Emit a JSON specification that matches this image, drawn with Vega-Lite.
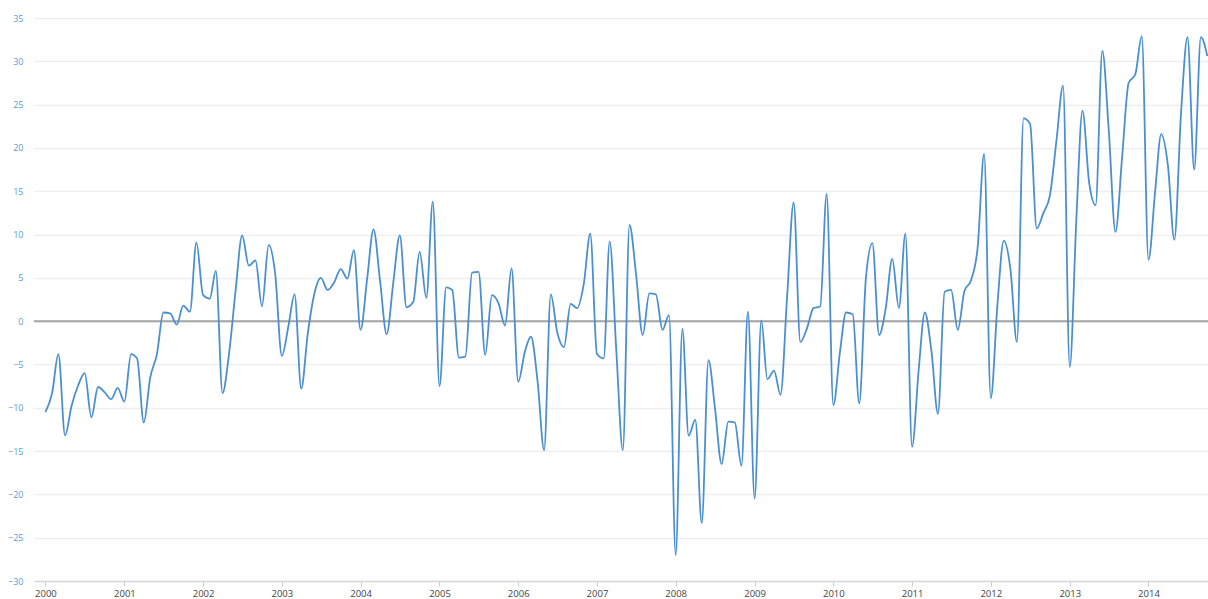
{
  "$schema": "https://vega.github.io/schema/vega-lite/v6.json",
  "autosize": {"type": "none"},
  "width": 1174,
  "height": 563,
  "padding": {"left": 34, "top": 18, "right": 0, "bottom": 18},
  "background": "white",
  "config": {"view": {"stroke": null}, "font": "Open Sans"},
  "layer": [
    {
      "data": {"values": [{"base": 0}]},
      "mark": {"type": "rule", "color": "#a3a3a3", "strokeWidth": 2},
      "encoding": {"y": {"field": "base", "type": "quantitative", "scale": {"domain": [-30, 35], "nice": false}}}
    },
    {
      "data": {"values": [
        {"date": "2000-01-01", "value": -10.5}, {"date": "2000-02-01", "value": -8.3}, {"date": "2000-03-01", "value": -3.8}, {"date": "2000-04-01", "value": -13.2},
        {"date": "2000-05-01", "value": -9.8}, {"date": "2000-06-01", "value": -7.4}, {"date": "2000-07-01", "value": -6.0}, {"date": "2000-08-01", "value": -11.1},
        {"date": "2000-09-01", "value": -7.6}, {"date": "2000-10-01", "value": -8.2}, {"date": "2000-11-01", "value": -9.0}, {"date": "2000-12-01", "value": -7.7},
        {"date": "2001-01-01", "value": -9.3}, {"date": "2001-02-01", "value": -3.8}, {"date": "2001-03-01", "value": -4.3}, {"date": "2001-04-01", "value": -11.7},
        {"date": "2001-05-01", "value": -6.5}, {"date": "2001-06-01", "value": -3.8}, {"date": "2001-07-01", "value": 1.0}, {"date": "2001-08-01", "value": 0.9},
        {"date": "2001-09-01", "value": -0.4}, {"date": "2001-10-01", "value": 1.8}, {"date": "2001-11-01", "value": 1.1}, {"date": "2001-12-01", "value": 9.1},
        {"date": "2002-01-01", "value": 3.0}, {"date": "2002-02-01", "value": 2.6}, {"date": "2002-03-01", "value": 5.8}, {"date": "2002-04-01", "value": -8.3},
        {"date": "2002-05-01", "value": -3.8}, {"date": "2002-06-01", "value": 3.6}, {"date": "2002-07-01", "value": 9.9}, {"date": "2002-08-01", "value": 6.4},
        {"date": "2002-09-01", "value": 7.0}, {"date": "2002-10-01", "value": 1.7}, {"date": "2002-11-01", "value": 8.8}, {"date": "2002-12-01", "value": 5.5},
        {"date": "2003-01-01", "value": -4.0}, {"date": "2003-02-01", "value": -0.5}, {"date": "2003-03-01", "value": 3.1}, {"date": "2003-04-01", "value": -7.8},
        {"date": "2003-05-01", "value": -1.5}, {"date": "2003-06-01", "value": 3.2}, {"date": "2003-07-01", "value": 5.0}, {"date": "2003-08-01", "value": 3.6},
        {"date": "2003-09-01", "value": 4.5}, {"date": "2003-10-01", "value": 6.0}, {"date": "2003-11-01", "value": 4.9}, {"date": "2003-12-01", "value": 8.2},
        {"date": "2004-01-01", "value": -1.0}, {"date": "2004-02-01", "value": 5.0}, {"date": "2004-03-01", "value": 10.6}, {"date": "2004-04-01", "value": 4.5},
        {"date": "2004-05-01", "value": -1.5}, {"date": "2004-06-01", "value": 4.5}, {"date": "2004-07-01", "value": 9.9}, {"date": "2004-08-01", "value": 1.6},
        {"date": "2004-09-01", "value": 2.2}, {"date": "2004-10-01", "value": 8.0}, {"date": "2004-11-01", "value": 2.7}, {"date": "2004-12-01", "value": 13.8},
        {"date": "2005-01-01", "value": -7.5}, {"date": "2005-02-01", "value": 3.9}, {"date": "2005-03-01", "value": 3.6}, {"date": "2005-04-01", "value": -4.2},
        {"date": "2005-05-01", "value": -4.1}, {"date": "2005-06-01", "value": 5.6}, {"date": "2005-07-01", "value": 5.7}, {"date": "2005-08-01", "value": -3.9},
        {"date": "2005-09-01", "value": 3.0}, {"date": "2005-10-01", "value": 2.1}, {"date": "2005-11-01", "value": -0.5}, {"date": "2005-12-01", "value": 6.1},
        {"date": "2006-01-01", "value": -7.0}, {"date": "2006-02-01", "value": -3.5}, {"date": "2006-03-01", "value": -1.8}, {"date": "2006-04-01", "value": -7.0},
        {"date": "2006-05-01", "value": -14.9}, {"date": "2006-06-01", "value": 3.1}, {"date": "2006-07-01", "value": -1.3}, {"date": "2006-08-01", "value": -3.0},
        {"date": "2006-09-01", "value": 2.0}, {"date": "2006-10-01", "value": 1.5}, {"date": "2006-11-01", "value": 4.3}, {"date": "2006-12-01", "value": 10.1},
        {"date": "2007-01-01", "value": -3.8}, {"date": "2007-02-01", "value": -4.3}, {"date": "2007-03-01", "value": 9.2}, {"date": "2007-04-01", "value": -3.5},
        {"date": "2007-05-01", "value": -14.9}, {"date": "2007-06-01", "value": 11.1}, {"date": "2007-07-01", "value": 5.5}, {"date": "2007-08-01", "value": -1.6},
        {"date": "2007-09-01", "value": 3.2}, {"date": "2007-10-01", "value": 3.1}, {"date": "2007-11-01", "value": -1.0}, {"date": "2007-12-01", "value": 0.7},
        {"date": "2008-01-01", "value": -27.0}, {"date": "2008-02-01", "value": -0.9}, {"date": "2008-03-01", "value": -13.2}, {"date": "2008-04-01", "value": -11.4},
        {"date": "2008-05-01", "value": -23.3}, {"date": "2008-06-01", "value": -4.5}, {"date": "2008-07-01", "value": -10.0}, {"date": "2008-08-01", "value": -16.5},
        {"date": "2008-09-01", "value": -11.6}, {"date": "2008-10-01", "value": -11.7}, {"date": "2008-11-01", "value": -16.7}, {"date": "2008-12-01", "value": 1.1},
        {"date": "2009-01-01", "value": -20.5}, {"date": "2009-02-01", "value": 0.1}, {"date": "2009-03-01", "value": -6.7}, {"date": "2009-04-01", "value": -5.7},
        {"date": "2009-05-01", "value": -8.5}, {"date": "2009-06-01", "value": 3.0}, {"date": "2009-07-01", "value": 13.7}, {"date": "2009-08-01", "value": -2.4},
        {"date": "2009-09-01", "value": -0.8}, {"date": "2009-10-01", "value": 1.5}, {"date": "2009-11-01", "value": 1.7}, {"date": "2009-12-01", "value": 14.7},
        {"date": "2010-01-01", "value": -9.7}, {"date": "2010-02-01", "value": -3.5}, {"date": "2010-03-01", "value": 1.0}, {"date": "2010-04-01", "value": 0.8},
        {"date": "2010-05-01", "value": -9.5}, {"date": "2010-06-01", "value": 5.0}, {"date": "2010-07-01", "value": 9.0}, {"date": "2010-08-01", "value": -1.6},
        {"date": "2010-09-01", "value": 1.5}, {"date": "2010-10-01", "value": 7.2}, {"date": "2010-11-01", "value": 1.5}, {"date": "2010-12-01", "value": 10.1},
        {"date": "2011-01-01", "value": -14.5}, {"date": "2011-02-01", "value": -5.5}, {"date": "2011-03-01", "value": 1.0}, {"date": "2011-04-01", "value": -3.5},
        {"date": "2011-05-01", "value": -10.7}, {"date": "2011-06-01", "value": 3.4}, {"date": "2011-07-01", "value": 3.6}, {"date": "2011-08-01", "value": -1.0},
        {"date": "2011-09-01", "value": 3.5}, {"date": "2011-10-01", "value": 4.7}, {"date": "2011-11-01", "value": 8.5}, {"date": "2011-12-01", "value": 19.3},
        {"date": "2012-01-01", "value": -8.9}, {"date": "2012-02-01", "value": 2.0}, {"date": "2012-03-01", "value": 9.3}, {"date": "2012-04-01", "value": 6.0},
        {"date": "2012-05-01", "value": -2.4}, {"date": "2012-06-01", "value": 23.4}, {"date": "2012-07-01", "value": 22.8}, {"date": "2012-08-01", "value": 10.7},
        {"date": "2012-09-01", "value": 12.5}, {"date": "2012-10-01", "value": 14.5}, {"date": "2012-11-01", "value": 21.0}, {"date": "2012-12-01", "value": 27.2},
        {"date": "2013-01-01", "value": -5.3}, {"date": "2013-02-01", "value": 12.0}, {"date": "2013-03-01", "value": 24.3}, {"date": "2013-04-01", "value": 16.0},
        {"date": "2013-05-01", "value": 13.4}, {"date": "2013-06-01", "value": 31.2}, {"date": "2013-07-01", "value": 22.0}, {"date": "2013-08-01", "value": 10.3},
        {"date": "2013-09-01", "value": 19.0}, {"date": "2013-10-01", "value": 27.5}, {"date": "2013-11-01", "value": 28.5}, {"date": "2013-12-01", "value": 32.9},
        {"date": "2014-01-01", "value": 7.1}, {"date": "2014-02-01", "value": 15.0}, {"date": "2014-03-01", "value": 21.6}, {"date": "2014-04-01", "value": 18.0},
        {"date": "2014-05-01", "value": 9.4}, {"date": "2014-06-01", "value": 24.0}, {"date": "2014-07-01", "value": 32.8}, {"date": "2014-08-01", "value": 17.5},
        {"date": "2014-09-01", "value": 32.8}, {"date": "2014-10-01", "value": 30.6}
      ]},
      "mark": {"type": "line", "interpolate": "monotone", "color": "#4a8fd0", "strokeWidth": 1.8},
      "encoding": {
        "x": {
          "field": "date", "type": "temporal",
          "scale": {"type": "utc", "domain": [{"year": 1999, "month": 11, "date": 9, "utc": true}, {"year": 2014, "month": 10, "date": 4, "utc": true}]},
          "axis": {
            "title": null, "format": "%Y", "tickCount": {"interval": "year", "step": 1},
            "grid": false, "domainColor": "#d8d8d8", "domainWidth": 1.5,
            "tickColor": "#cccccc", "tickSize": 5, "labelColor": "#444444", "labelFontSize": 9.5,
            "labelPadding": 2, "labelFlush": false, "labelOverlap": false
          }
        },
        "y": {
          "field": "value", "type": "quantitative",
          "scale": {"domain": [-30, 35], "nice": false},
          "axis": {
            "title": null, "values": [-30, -25, -20, -15, -10, -5, 0, 5, 10, 15, 20, 25, 30, 35],
            "domain": false, "ticks": false, "gridColor": "#eeeeee", "gridWidth": 1.5,
            "labelColor": "#5b9bd5", "labelFontSize": 9, "labelPadding": 11
          }
        }
      }
    }
  ]
}
